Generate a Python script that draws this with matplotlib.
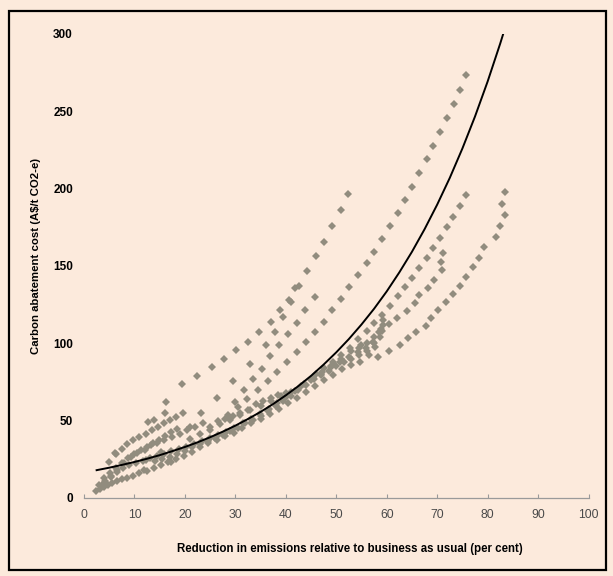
import matplotlib
matplotlib.use('Agg')
import matplotlib.pyplot as plt
from matplotlib.patches import Rectangle

plt.rcParams['font.family'] = ['Liberation Sans', 'DejaVu Sans']

BG = '#FCEADC'
DOT = '#918C7E'

# ---- model runs (x = % reduction, y = A$/t) ----
# steep top-left run
ser_a_x = [19.5, 22.4, 25.3, 27.7, 30.1, 32.5, 34.7, 37.0, 38.9, 40.6, 42.6, 44.3, 45.9, 47.6, 49.2, 50.9, 52.4]
ser_a_y = [73.6, 78.5, 84.7, 89.5, 95.5, 101.0, 107.4, 113.8, 121.2, 127.9, 136.9, 146.4, 156.3, 165.6, 175.5, 186.1, 196.4]
ser_b_x = [26.3, 29.6, 32.9, 36.1, 37.9, 39.5, 41.1, 41.8]
ser_b_y = [64.3, 75.5, 86.7, 98.8, 107.0, 116.7, 126.4, 135.4]
ser_c_x = [29.9, 31.7, 33.4, 35.2, 36.9, 38.7, 40.5, 42.2, 43.9, 45.7]
ser_c_y = [62.1, 69.7, 76.6, 83.2, 91.6, 98.6, 105.7, 113.2, 121.4, 129.6]
# long run reaching 273
ser_d_x = [28.6, 30.5, 32.4, 34.4, 36.4, 38.3, 40.3, 42.2, 44.0, 45.8, 47.6, 49.2, 51.0, 52.6, 54.4, 56.0,
           57.5, 59.1, 60.7, 62.2, 63.7, 65.1, 66.5, 67.9, 69.2, 70.6, 72.0, 73.3, 74.5, 75.7]
ser_d_y = [53.5, 58.5, 64.0, 69.7, 75.7, 81.5, 88.0, 94.2, 100.5, 107.4, 113.8, 121.4, 128.7, 136.3, 144.0, 151.6,
           159.1, 167.3, 175.9, 183.9, 192.5, 201.1, 209.8, 218.8, 227.4, 236.5, 245.6, 254.8, 263.9, 273.3]
# run ending at 76 / 196
ser_e_x = [46.0, 47.6, 49.3, 51.0, 52.7, 54.4, 56.0, 57.5, 59.1, 60.7, 62.2, 63.7, 65.1, 66.5, 67.9, 69.2,
           70.6, 71.9, 73.2, 74.5, 75.7]
ser_e_y = [80.0, 84.0, 88.0, 92.0, 97.0, 102.5, 108.0, 113.0, 118.2, 124.2, 130.4, 136.5, 142.3, 148.4, 154.8, 161.3,
           167.8, 175.3, 181.7, 188.6, 195.6]
# run ending at 71 / 158
ser_f_x = [54.5, 56.0, 57.5, 59.0, 60.5, 62.0, 64.1, 65.6, 66.5, 68.2, 69.4, 70.9, 70.7, 71.2]
ser_f_y = [97.0, 100.0, 104.0, 108.0, 112.1, 116.4, 120.9, 125.7, 131.0, 135.8, 141.1, 147.3, 152.6, 158.4]
# lowest right-hand run ending at 84 / 198
ser_g_x = [58.2, 60.5, 62.7, 64.2, 65.9, 67.8, 68.7, 70.1, 71.8, 73.2, 74.5, 75.8, 77.2, 78.3, 79.3, 81.6,
           82.4, 83.4, 82.9, 83.4]
ser_g_y = [91.2, 94.9, 98.5, 103.1, 107.4, 111.1, 116.2, 121.2, 126.4, 131.7, 137.1, 142.9, 148.9, 155.3, 161.9, 168.4,
           175.9, 182.8, 189.9, 197.7]
# dense band along the trend
band1_x = [2.3, 3.1, 3.9, 4.7, 5.6, 6.5, 7.5, 8.6, 9.8, 11.0, 12.4, 13.8, 15.2, 16.7, 18.2, 19.8, 21.4, 23.0,
           24.6, 26.3, 28.0, 29.7, 31.4, 33.2, 35.0, 36.8, 38.6, 40.4, 42.2, 44.0, 45.8, 47.6, 49.4, 51.2,
           53.0, 54.8, 56.4, 57.6, 58.6, 59.2]
band1_y = [4.2, 5.6, 7.0, 8.3, 9.5, 10.8, 12.0, 13.0, 14.0, 15.8, 17.5, 19.5, 21.0, 23.0, 25.0, 27.0, 29.5, 33.0,
           35.5, 37.5, 39.8, 42.0, 45.0, 48.0, 51.0, 54.0, 57.5, 61.0, 64.5, 68.5, 72.5, 76.0, 79.5, 83.0,
           85.5, 88.0, 92.0, 97.5, 104.0, 112.0]
band2_x = [3.0, 4.2, 5.4, 6.6, 7.8, 9.0, 10.3, 11.6, 13.0, 14.4, 15.8, 17.3, 18.8, 20.3, 21.8, 23.4, 25.0,
           26.6, 28.2, 29.8, 31.5, 33.2, 34.9, 36.6, 38.3, 40.0, 41.8, 43.6, 45.4, 47.2, 49.0, 50.8, 52.6,
           54.3, 55.9, 57.3, 58.5, 59.3]
band2_y = [8.0, 11.0, 14.0, 16.5, 19.0, 21.0, 22.5, 24.0, 25.5, 27.0, 28.5, 30.0, 31.5, 33.0, 34.5, 36.5, 38.5,
           40.5, 42.5, 45.0, 48.0, 51.0, 54.0, 57.5, 61.0, 65.0, 69.0, 73.5, 77.5, 81.0, 84.5, 88.0, 91.0,
           94.0, 97.0, 101.0, 107.0, 115.0]
band3_x = [5.0, 6.3, 7.5, 8.6, 9.8, 11.0, 12.2, 13.4, 14.6, 15.8, 17.0, 18.3, 19.7]
band3_y = [23.0, 28.0, 31.5, 34.8, 37.0, 39.5, 41.5, 43.8, 46.0, 48.0, 50.5, 52.5, 55.0]
band4_x = [7.9, 9.3, 10.6, 12.0, 13.2, 14.5, 15.8, 17.5, 19.0, 20.5, 22.0, 23.5, 25.0, 26.5, 28.0, 29.5,
           31.0, 32.5, 34.0, 35.5, 37.0, 38.5, 40.0]
band4_y = [22.2, 26.6, 29.0, 31.0, 34.1, 35.2, 37.0, 39.0, 41.5, 44.0, 46.0, 48.1, 46.0, 49.5, 51.0, 53.0,
           55.0, 57.0, 60.5, 62.5, 64.5, 66.5, 68.0]
band5_x = [14.0, 15.5, 17.0, 18.5, 20.0, 21.5, 23.0, 24.5, 26.0, 27.5, 29.0, 30.5, 32.0, 33.5, 35.0, 36.5,
           38.0, 39.5, 41.0, 42.5, 44.0, 45.5, 47.0, 48.5, 50.0, 51.5, 53.0, 54.5, 56.0, 57.5, 58.8]
band5_y = [23.5, 25.0, 26.5, 28.5, 30.5, 32.5, 34.5, 36.5, 38.5, 40.5, 43.0, 45.0, 48.0, 50.5, 53.0, 56.0,
           59.0, 62.5, 66.0, 69.5, 73.0, 76.5, 79.5, 82.0, 85.0, 87.5, 89.5, 92.0, 95.0, 100.0, 109.0]
band6_x = [21.0, 23.0, 25.0, 27.0, 29.0, 31.0, 33.0, 35.0, 37.0, 39.0, 41.0, 43.0, 45.0, 47.0, 49.0, 51.0, 53.0, 55.0]
band6_y = [38.0, 41.0, 44.0, 47.5, 50.5, 53.5, 56.5, 59.5, 62.5, 65.5, 68.5, 72.0, 76.0, 80.0, 85.0, 90.0, 95.0, 99.0]
band7_x = [4.0, 5.2, 6.4, 7.6, 8.8, 10.0, 11.2, 12.4, 13.6, 14.8, 16.0, 17.2, 18.4]
band7_y = [12.5, 16.0, 19.0, 22.5, 25.5, 28.5, 31.0, 33.0, 35.5, 37.5, 40.0, 42.5, 44.5]
extra_x = [16.2, 12.6, 13.9, 23.1, 21.1, 17.2, 12.2, 15.2, 6.6, 5.3, 4.0, 11.9, 16.1, 6.2]
extra_y = [61.7, 48.7, 50.2, 54.6, 46.0, 23.3, 24.4, 29.8, 17.9, 13.6, 9.3, 17.9, 55.0, 29.2]

# exponential trend line read at regular steps
trend_x = [2.5, 5, 7.5, 10, 12.5, 15, 17.5, 20, 22.5, 25, 27.5, 30, 32.5, 35, 37.5, 40, 42.5, 45, 47.5,
           50, 52.5, 55, 57.5, 60, 62.5, 65, 67.5, 70, 72.5, 75, 77.5, 80, 82.5, 83.1]
trend_y = [17.8, 19.4, 21.2, 23.1, 25.2, 27.5, 30.1, 32.8, 35.8, 39.1, 42.7, 46.6, 50.9, 55.5, 60.6, 66.2,
           72.2, 78.8, 86.1, 94.0, 102.6, 112.0, 122.2, 133.4, 145.7, 159.0, 173.6, 189.5, 206.8, 225.8,
           246.5, 269.1, 293.7, 300.0]

xticks = [0, 10, 20, 30, 40, 50, 60, 70, 80, 90, 100]
yticks = [0, 50, 100, 150, 200, 250, 300]

W, H = 613, 576
fig = plt.figure(figsize=(W / 100, H / 100), dpi=100, facecolor=BG)
fig.patches.append(Rectangle((9 / W, 1 - 570 / H), 597 / W, 559 / H, transform=fig.transFigure,
                             fill=False, edgecolor='black', linewidth=1.6))

ax = fig.add_axes([84 / W, 1 - 497.7 / H, 504.5 / W, 463.9 / H])
ax.set_facecolor(BG)

series = [(ser_a_x, ser_a_y), (ser_b_x, ser_b_y), (ser_c_x, ser_c_y), (ser_d_x, ser_d_y),
          (ser_e_x, ser_e_y), (ser_f_x, ser_f_y), (ser_g_x, ser_g_y), (band1_x, band1_y),
          (band2_x, band2_y), (band3_x, band3_y), (band4_x, band4_y), (band5_x, band5_y),
          (band6_x, band6_y), (band7_x, band7_y), (extra_x, extra_y)]
for sx, sy in series:
    ax.plot(sx, sy, ls='none', marker='D', ms=3.9, mew=0, color=DOT, zorder=2)

ax.plot(trend_x, trend_y, color='black', lw=1.4, zorder=3)

ax.set_xlim(0, 100)
ax.set_ylim(0, 300)
ax.set_xticks(xticks)
ax.set_yticks(yticks)
for s in ['top', 'right', 'left']:
    ax.spines[s].set_visible(False)
ax.spines['bottom'].set_color('#9a9a9a')
ax.spines['bottom'].set_linewidth(0.9)
ax.tick_params(axis='x', direction='in', length=3, color='#9a9a9a', pad=8, labelsize=8.8, labelcolor='#4a4a4a')
ax.tick_params(axis='y', length=0, pad=8, labelsize=8.5)
for t in ax.get_yticklabels():
    t.set_fontweight('bold')

fig.text(350 / W, 1 - 549 / H, 'Reduction in emissions relative to business as usual (per cent)',
         ha='center', va='center', fontsize=8.3, fontweight='bold')
fig.text(36 / W, 1 - 256 / H, 'Carbon abatement cost (A$/t CO2-e)', rotation=90,
         ha='center', va='center', fontsize=8.2, fontweight='bold')

fig.savefig('out.png', dpi=100, facecolor=BG)
